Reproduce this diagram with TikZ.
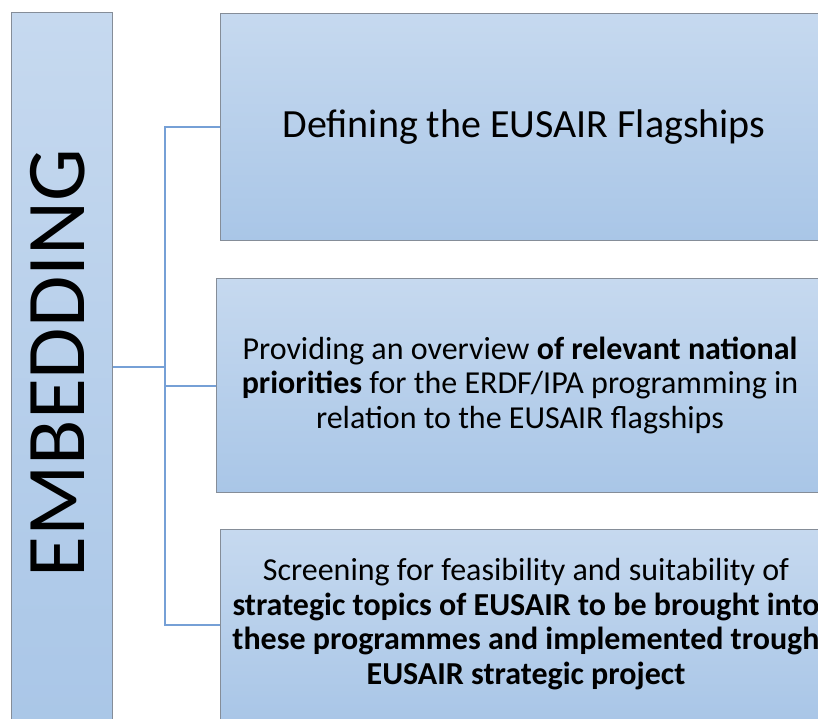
\documentclass[tikz,border=0pt]{standalone}
\usepackage{fontspec}
\setmainfont{Carlito}
\definecolor{boxtop}{HTML}{C6D9EF}
\definecolor{boxbot}{HTML}{A9C6E7}
\definecolor{boxedge}{HTML}{858D98}
\definecolor{conn}{HTML}{76A0D6}
\tikzset{
  bluebox/.style={draw=boxedge, line width=1.2pt, top color=boxtop, bottom color=boxbot, anchor=north west, inner sep=0pt},
  conline/.style={draw=conn, line width=2pt},
  bodytext/.style={font=\fontsize{32}{34.5}\selectfont, align=center, text=black}
}
\begin{document}
\begin{tikzpicture}[x=1pt,y=-1pt]
\clip (0,0) rectangle (818,718);
\useasboundingbox (0,0) rectangle (818,718);
\fill[white] (0,0) rectangle (818,718);
\node[bluebox, minimum width=101pt, minimum height=730pt] (L) at (11,12) {};
\node[rotate=90, font=\fontsize{83.5}{90}\selectfont] (Ltext) at (58,363) {EMBEDDING};
\node[bluebox, minimum width=610pt, minimum height=227pt] (B1) at (220,13) {};
\node[font=\fontsize{40}{44}\selectfont] (T1) at (524,127) {Defining the EUSAIR Flagships};
\node[bluebox, minimum width=608pt, minimum height=214pt] (B2) at (216,278) {};
\node[bodytext] (T2) at (520,385) {Providing an overview \textbf{of relevant national}\\\textbf{priorities} for the ERDF/IPA programming in\\relation to the EUSAIR flagships};
\node[bluebox, minimum width=612pt, minimum height=190pt] (B3) at (220,529) {};
\node[bodytext] (T3) at (526,624) {Screening for feasibility and suitability of\\\textbf{strategic topics of EUSAIR to be brought into}\\\textbf{these programmes and implemented trough}\\\textbf{EUSAIR strategic project}};
\coordinate (J) at (165,367);
\draw[conline] (L.east |- J) -- (J);
\draw[conline] (J) |- (B1.west);
\draw[conline] (J) |- (B2.west);
\draw[conline] (J) |- (B3.west);
\end{tikzpicture}
\end{document}
